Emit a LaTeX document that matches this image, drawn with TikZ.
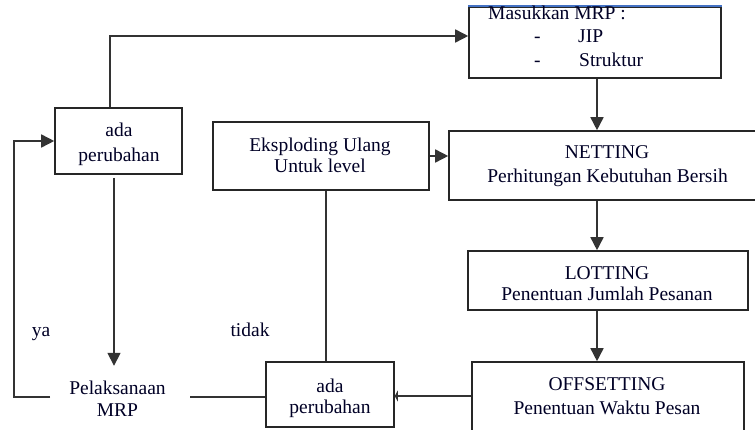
\documentclass[tikz,border=0pt]{standalone}
\usepackage{fontspec}
\setmainfont{Liberation Serif}
\usetikzlibrary{arrows.meta,calc}
\begin{document}
\begin{tikzpicture}[x=1pt,y=-1pt,
  box/.style={draw=black!85,line width=1.6pt,inner sep=0pt},
  txt/.style={font=\fontsize{19.5}{24}\selectfont,text=black!85!blue,inner sep=0pt,anchor=base},
  conn/.style={draw=black!80,line width=1.6pt},
  arr/.style={conn,-{Triangle[length=13pt,width=13pt]}},
  smallarr/.style={conn,-{Triangle[length=3pt,width=11pt]}}]
\useasboundingbox (0,0) rectangle (755,430);
\fill[white] (0,0) rectangle (755,430);
% boxes
\node[box,minimum width=252pt,minimum height=71pt] (mas) at (595,42.5) {};
\draw[line width=1.6pt,color={rgb,255:red,68;green,114;blue,196}] (mas.north west) -- (mas.north east);
\node[box,minimum width=127pt,minimum height=66pt] (ada1) at (118.5,141) {};
\node[box,minimum width=216pt,minimum height=68pt] (eks) at (321,156) {};
\node[box,minimum width=310pt,minimum height=69pt] (net) at (604,165.5) {};
\node[box,minimum width=280pt,minimum height=59pt] (lot) at (608,280.5) {};
\node[box,minimum width=272pt,minimum height=74pt] (off) at (608,399) {};
\node[box,minimum width=128pt,minimum height=65pt] (ada2) at (330,394.5) {};
% texts
\node[txt,anchor=base west] (m1) at (488,20) {Masukkan MRP :};
\node[txt,anchor=base west] (m2) at (534,43) {-};
\node[txt,anchor=base west] (m3) at (578,43) {JIP};
\node[txt,anchor=base west] (m4) at (534,67) {-};
\node[txt,anchor=base west] (m5) at (579,67) {Struktur};
\node[txt] (a1a) at (119,137) {ada};
\node[txt] (a1b) at (119,161.5) {perubahan};
\node[txt] (e1) at (320,152) {Eksploding Ulang};
\node[txt] (e2) at (320,173) {Untuk level};
\node[txt] (n1) at (607,159) {NETTING};
\node[txt] (n2) at (607.5,183) {Perhitungan Kebutuhan Bersih};
\node[txt] (l1) at (607,280) {LOTTING};
\node[txt] (l2) at (607,301) {Penentuan Jumlah Pesanan};
\node[txt] (o1) at (607,390) {OFFSETTING};
\node[txt] (o2) at (607,414) {Penentuan Waktu Pesan};
\node[txt] (a2a) at (330,392) {ada};
\node[txt] (a2b) at (330,413) {perubahan};
\node[txt] (p1) at (117.5,394) {Pelaksanaan};
\node[txt] (p2) at (117.5,416) {MRP};
\node[txt] (ya) at (41,337) {ya};
\node[txt] (tidak) at (250,337) {tidak};
% connectors
\coordinate (c0) at ($(ada1.north)+(-8.5,0)$);
\draw[arr] (c0) |- ($(mas.west)+(0,-6.5)$);
\coordinate (c1) at ($(mas.south)+(2,0)$);
\draw[arr] (c1) -- (c1 |- net.north);
\draw[arr] (eks.east) -- (eks.east -| net.west);
\coordinate (c2) at ($(net.south)+(-7,0)$);
\draw[arr] (c2) -- (c2 |- lot.north);
\coordinate (c3) at ($(lot.south)+(-11,0)$);
\draw[arr] (c3) -- (c3 |- off.north);
\coordinate (c4) at (off.west |- 0,396);
\draw[smallarr] (c4) -- (c4 -| ada2.east);
\coordinate (c5) at ($(eks.south)+(5,0)$);
\draw[conn] (c5) -- (c5 |- ada2.north);
\coordinate (c6) at (190,397);
\draw[conn] (c6) -- (c6 -| ada2.west);
\coordinate (c7) at ($(ada1.south)+(-4.5,3)$);
\draw[arr] (c7) -- ($(c7)+(0,188)$);
\coordinate (c8) at (50,397);
\draw[arr] (c8) -- ++(-36,0) |- (ada1.west);
\end{tikzpicture}
\end{document}
